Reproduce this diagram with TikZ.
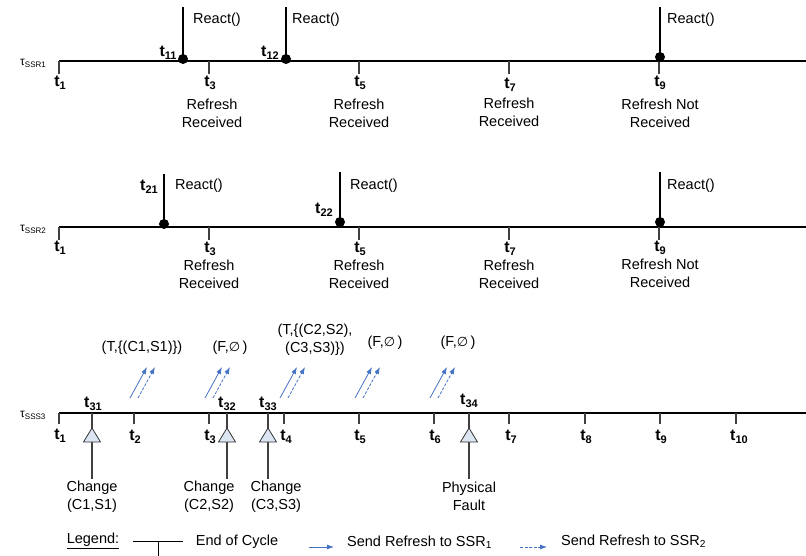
\documentclass[tikz,border=0pt]{standalone}
\usepackage{fontspec}
\setmainfont{Liberation Sans}
\newfontfamily\dejavu{DejaVu Sans}
\usetikzlibrary{arrows.meta}
\definecolor{arrblue}{HTML}{4472C4}
\definecolor{trifill}{HTML}{DCE6F2}
\newcommand{\tlab}[1]{{\bfseries\fontsize{16}{16}\selectfont t\raisebox{-3pt}{\fontsize{11}{11}\selectfont #1}}}
\newcommand{\taulab}[1]{{\fontsize{12}{12}\selectfont τ\raisebox{-2pt}{\fontsize{8}{8}\selectfont #1}}}
\newcommand{\myempty}{{\dejavu\fontsize{13}{13}\selectfont ∅}}
\tikzset{
  txt/.style={font=\fontsize{14.5}{18}\selectfont, align=center, inner sep=0pt},
  lbl/.style={inner sep=0pt},
  timeline/.style={line width=2.6pt},
  tick/.style={line width=1.1pt, draw=black!75},
  react/.style={line width=2.4pt},
  rdot/.style={circle, fill=black, minimum size=10pt, inner sep=0pt},
  tri/.style={draw=black!80, fill=trifill, line width=0.8pt},
  sline/.style={line width=1.1pt, draw=black!75},
  sarr/.style={arrblue, line width=0.8pt, -{Latex[length=7pt,width=5pt]}},
  darr/.style={arrblue, line width=0.8pt, dash pattern=on 3pt off 1.5pt, -{Latex[length=7pt,width=5pt]}},
}
\begin{document}
\begin{tikzpicture}[x=1pt,y=-1pt]
\useasboundingbox (0,0) rectangle (806,556);

%% ---------- Row 1 ----------
\node[lbl, anchor=west] (tau1) at (20,63) {\taulab{SSR1}};
\coordinate (L1s) at (59,61);
\coordinate (L1e) at (806,61);
\draw[timeline] (L1s) -- (L1e);
\foreach \x/\n in {59/1,209/3,359/5,509/7,659/9}{
  \coordinate (r1t\n) at (\x,61);
  \coordinate (r1b\n) at (\x,74);
  \draw[tick] (r1t\n) -- (r1b\n);
}
\node[lbl] (r1l1) at (60,83) {\tlab{1}};
\node[lbl] (r1l3) at (210,83) {\tlab{3}};
\node[lbl] (r1l5) at (360,83) {\tlab{5}};
\node[lbl] (r1l7) at (510,85) {\tlab{7}};
\node[lbl] (r1l9) at (660,83) {\tlab{9}};
\node[txt] (r1r3) at (212,113) {Refresh\\Received};
\node[txt] (r1r5) at (359,113) {Refresh\\Received};
\node[txt] (r1r7) at (509,112) {Refresh\\Received};
\node[txt] (r1r9) at (660,113) {Refresh Not\\Received};
% reacts
\coordinate (r11top) at (183,7);
\node[rdot] (r11) at (183,59) {};
\draw[react] (r11top) -- (r11.center);
\node[lbl] (t11) at (168,53) {\tlab{11}};
\node[txt, anchor=west] (re11) at (193,20) {React()};
\coordinate (r12top) at (286,7);
\node[rdot] (r12) at (286,59) {};
\draw[react] (r12top) -- (r12.center);
\node[lbl] (t12) at (270,53) {\tlab{12}};
\node[txt, anchor=west] (re12) at (292,20) {React()};
\coordinate (r19top) at (660,7);
\node[rdot] (r19) at (660,57) {};
\draw[react] (r19top) -- (r19.center);
\node[txt, anchor=west] (re19) at (667,20) {React()};

%% ---------- Row 2 ----------
\node[lbl, anchor=west] (tau2) at (20,229) {\taulab{SSR2}};
\coordinate (L2s) at (59,227);
\coordinate (L2e) at (806,227);
\draw[timeline] (L2s) -- (L2e);
\foreach \x/\n in {59/1,209/3,359/5,509/7,659/9}{
  \coordinate (r2t\n) at (\x,227);
  \coordinate (r2b\n) at (\x,240);
  \draw[tick] (r2t\n) -- (r2b\n);
}
\node[lbl] (r2l1) at (60,248) {\tlab{1}};
\node[lbl] (r2l3) at (210,249) {\tlab{3}};
\node[lbl] (r2l5) at (360,249) {\tlab{5}};
\node[lbl] (r2l7) at (510,249) {\tlab{7}};
\node[lbl] (r2l9) at (660,248) {\tlab{9}};
\node[txt] (r2r3) at (209,274) {Refresh\\Received};
\node[txt] (r2r5) at (359,274) {Refresh\\Received};
\node[txt] (r2r7) at (509,274) {Refresh\\Received};
\node[txt] (r2r9) at (660,273) {Refresh Not\\Received};
\coordinate (r21top) at (164,174);
\node[rdot] (r21) at (164,224) {};
\draw[react] (r21top) -- (r21.center);
\node[lbl] (t21) at (149,187) {\tlab{21}};
\node[txt, anchor=west] (re21) at (175,186) {React()};
\coordinate (r22top) at (340,172);
\node[rdot] (r22) at (340,222) {};
\draw[react] (r22top) -- (r22.center);
\node[lbl] (t22) at (324,210) {\tlab{22}};
\node[txt, anchor=west] (re22) at (350,186) {React()};
\coordinate (r29top) at (660,172);
\node[rdot] (r29) at (660,222) {};
\draw[react] (r29top) -- (r29.center);
\node[txt, anchor=west] (re29) at (667,186) {React()};

%% ---------- Row 3 ----------
\node[lbl, anchor=west] (tau3) at (20,415) {\taulab{SSS3}};
\coordinate (L3s) at (59,413);
\coordinate (L3e) at (806,413);
\draw[timeline] (L3s) -- (L3e);
\foreach \x/\n in {59/1,134/2,209/3,284/4,359/5,434/6,509/7,585/8,660/9,736/10}{
  \coordinate (r3t\n) at (\x,413);
  \coordinate (r3b\n) at (\x,424);
  \draw[tick] (r3t\n) -- (r3b\n);
}
\node[lbl] (r3l1) at (60,436) {\tlab{1}};
\node[lbl] (r3l2) at (135,437) {\tlab{2}};
\node[lbl] (r3l3) at (210,437) {\tlab{3}};
\node[lbl] (r3l4) at (286,437) {\tlab{4}};
\node[lbl] (r3l5) at (360,437) {\tlab{5}};
\node[lbl] (r3l6) at (435,437) {\tlab{6}};
\node[lbl] (r3l7) at (511,437) {\tlab{7}};
\node[lbl] (r3l8) at (586,437) {\tlab{8}};
\node[lbl] (r3l9) at (661,437) {\tlab{9}};
\node[lbl] (r3l10) at (739,437) {\tlab{10}};
% change events
\foreach \x/\n in {92/31,227/32,268/33,469/34}{
  \coordinate (e\n top) at (\x,413);
  \coordinate (e\n bot) at (\x,479);
  \draw[sline] (e\n top) -- (e\n bot);
  \draw[tri] (\x,428) -- (\x+8.5,442) -- (\x-8.5,442) -- cycle;
}
\node[lbl] (t31) at (93,404) {\tlab{31}};
\node[lbl] (t32) at (227,404) {\tlab{32}};
\node[lbl] (t33) at (268,404) {\tlab{33}};
\node[lbl] (t34) at (469,401) {\tlab{34}};
\node[txt] (c1) at (92,497) {Change\\(C1,S1)};
\node[txt] (c2) at (209,497) {Change\\(C2,S2)};
\node[txt] (c3) at (276,497) {Change\\(C3,S3)};
\node[txt] (pf) at (469,496) {Physical\\Fault};
% refresh arrows
\foreach \x/\n in {130/a,205/b,280/c,355/d,430/e}{
  \coordinate (s\n0) at (\x,398);
  \coordinate (s\n1) at (\x+17,367);
  \coordinate (d\n0) at (\x+8,398);
  \coordinate (d\n1) at (\x+25,367);
  \draw[sarr] (s\n0) -- (s\n1);
  \draw[darr] (d\n0) -- (d\n1);
}
\node[txt] (m1) at (142,348) {(T,\{(C1,S1)\})};
\node[txt] (m2) at (230,348) {(F,\myempty\,)};
\node[txt] (m3) at (315,340) {(T,\{(C2,S2),\\(C3,S3)\})};
\node[txt] (m4) at (385,343) {(F,\myempty\,)};
\node[txt] (m5) at (458,343) {(F,\myempty\,)};

%% ---------- Legend ----------
\node[txt] (leg) at (93,541) {\underline{Legend:}};
\coordinate (lg1) at (133,541);
\coordinate (lg2) at (183,541);
\coordinate (lg3) at (158,541);
\coordinate (lg4) at (158,556);
\draw[line width=0.8pt] (lg1) -- (lg2);
\draw[line width=0.8pt] (lg3) -- (lg4);
\node[txt] (eoc) at (237,542) {End of Cycle};
\coordinate (la0) at (309,547);
\coordinate (la1) at (334,547);
\draw[sarr] (la0) -- (la1);
\node[txt, anchor=west] (ls1) at (347,542) {Send Refresh to SSR\textsubscript{1}};
\coordinate (lb0) at (520,547);
\coordinate (lb1) at (547,547);
\draw[darr] (lb0) -- (lb1);
\node[txt, anchor=west] (ls2) at (561,541) {Send Refresh to SSR\textsubscript{2}};
\end{tikzpicture}
\end{document}
